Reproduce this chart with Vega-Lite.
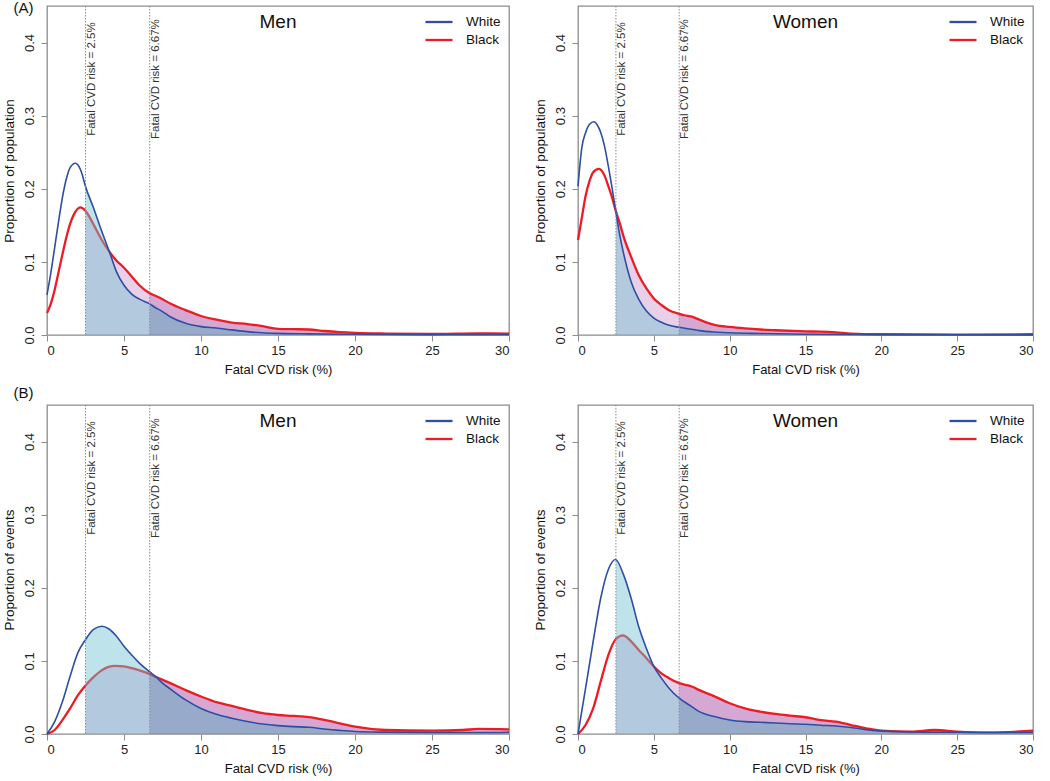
{
  "$schema": "https://vega.github.io/schema/vega-lite/v6.json",
  "padding": {"left": 1, "top": 0, "right": 0, "bottom": 0},
  "datasets": {
    "thr": [
      {"risk": 2.5, "label": "Fatal CVD risk = 2.5%"},
      {"risk": 6.67, "label": "Fatal CVD risk = 6.67%"}
    ],
    "curves": [
      {"panel":"AM","race":"White","risk":0,"prop":0.055},{"panel":"AM","race":"White","risk":0.25,"prop":0.085},{"panel":"AM","race":"White","risk":0.5,"prop":0.12},{"panel":"AM","race":"White","risk":0.75,"prop":0.155},{"panel":"AM","race":"White","risk":1,"prop":0.188},{"panel":"AM","race":"White","risk":1.25,"prop":0.213},{"panel":"AM","race":"White","risk":1.5,"prop":0.229},{"panel":"AM","race":"White","risk":1.84,"prop":0.235},{"panel":"AM","race":"White","risk":2,"prop":0.233},{"panel":"AM","race":"White","risk":2.25,"prop":0.222},{"panel":"AM","race":"White","risk":2.5,"prop":0.203},{"panel":"AM","race":"White","risk":3,"prop":0.175},{"panel":"AM","race":"White","risk":3.5,"prop":0.145},{"panel":"AM","race":"White","risk":4.05,"prop":0.114},{"panel":"AM","race":"White","risk":4.5,"prop":0.087},{"panel":"AM","race":"White","risk":5,"prop":0.068},{"panel":"AM","race":"White","risk":5.5,"prop":0.056},{"panel":"AM","race":"White","risk":6,"prop":0.049},{"panel":"AM","race":"White","risk":6.67,"prop":0.0425},{"panel":"AM","race":"White","risk":7,"prop":0.038},{"panel":"AM","race":"White","risk":7.5,"prop":0.032},{"panel":"AM","race":"White","risk":8,"prop":0.025},{"panel":"AM","race":"White","risk":9,"prop":0.016},{"panel":"AM","race":"White","risk":10,"prop":0.0114},{"panel":"AM","race":"White","risk":11,"prop":0.0095},{"panel":"AM","race":"White","risk":12,"prop":0.007},{"panel":"AM","race":"White","risk":13,"prop":0.0046},{"panel":"AM","race":"White","risk":14,"prop":0.003},{"panel":"AM","race":"White","risk":15,"prop":0.0022},{"panel":"AM","race":"White","risk":17,"prop":0.0015},{"panel":"AM","race":"White","risk":20,"prop":0.001},{"panel":"AM","race":"White","risk":25,"prop":0.0005},{"panel":"AM","race":"White","risk":30,"prop":0.0005},
      {"panel":"AM","race":"Black","risk":0,"prop":0.03},{"panel":"AM","race":"Black","risk":0.25,"prop":0.043},{"panel":"AM","race":"Black","risk":0.5,"prop":0.062},{"panel":"AM","race":"Black","risk":0.75,"prop":0.086},{"panel":"AM","race":"Black","risk":1,"prop":0.11},{"panel":"AM","race":"Black","risk":1.25,"prop":0.133},{"panel":"AM","race":"Black","risk":1.5,"prop":0.152},{"panel":"AM","race":"Black","risk":1.75,"prop":0.165},{"panel":"AM","race":"Black","risk":2.16,"prop":0.1746},{"panel":"AM","race":"Black","risk":2.5,"prop":0.17},{"panel":"AM","race":"Black","risk":3,"prop":0.152},{"panel":"AM","race":"Black","risk":3.5,"prop":0.132},{"panel":"AM","race":"Black","risk":4.05,"prop":0.114},{"panel":"AM","race":"Black","risk":4.5,"prop":0.102},{"panel":"AM","race":"Black","risk":5,"prop":0.092},{"panel":"AM","race":"Black","risk":5.5,"prop":0.08},{"panel":"AM","race":"Black","risk":6,"prop":0.068},{"panel":"AM","race":"Black","risk":6.67,"prop":0.057},{"panel":"AM","race":"Black","risk":7,"prop":0.054},{"panel":"AM","race":"Black","risk":7.5,"prop":0.049},{"panel":"AM","race":"Black","risk":8,"prop":0.043},{"panel":"AM","race":"Black","risk":9,"prop":0.034},{"panel":"AM","race":"Black","risk":10,"prop":0.026},{"panel":"AM","race":"Black","risk":11,"prop":0.021},{"panel":"AM","race":"Black","risk":12,"prop":0.017},{"panel":"AM","race":"Black","risk":13,"prop":0.015},{"panel":"AM","race":"Black","risk":14,"prop":0.012},{"panel":"AM","race":"Black","risk":15,"prop":0.0085},{"panel":"AM","race":"Black","risk":16,"prop":0.008},{"panel":"AM","race":"Black","risk":17,"prop":0.0075},{"panel":"AM","race":"Black","risk":18,"prop":0.0055},{"panel":"AM","race":"Black","risk":19,"prop":0.004},{"panel":"AM","race":"Black","risk":20,"prop":0.003},{"panel":"AM","race":"Black","risk":22,"prop":0.002},{"panel":"AM","race":"Black","risk":25,"prop":0.0014},{"panel":"AM","race":"Black","risk":28,"prop":0.0022},{"panel":"AM","race":"Black","risk":30,"prop":0.002},
      {"panel":"AW","race":"White","risk":0,"prop":0.2035},{"panel":"AW","race":"White","risk":0.25,"prop":0.256},{"panel":"AW","race":"White","risk":0.5,"prop":0.2767},{"panel":"AW","race":"White","risk":0.75,"prop":0.288},{"panel":"AW","race":"White","risk":1.06,"prop":0.2917},{"panel":"AW","race":"White","risk":1.25,"prop":0.288},{"panel":"AW","race":"White","risk":1.5,"prop":0.277},{"panel":"AW","race":"White","risk":1.75,"prop":0.258},{"panel":"AW","race":"White","risk":2,"prop":0.231},{"panel":"AW","race":"White","risk":2.25,"prop":0.201},{"panel":"AW","race":"White","risk":2.5,"prop":0.168},{"panel":"AW","race":"White","risk":2.75,"prop":0.137},{"panel":"AW","race":"White","risk":3,"prop":0.112},{"panel":"AW","race":"White","risk":3.5,"prop":0.073},{"panel":"AW","race":"White","risk":4,"prop":0.049},{"panel":"AW","race":"White","risk":4.5,"prop":0.033},{"panel":"AW","race":"White","risk":5,"prop":0.023},{"panel":"AW","race":"White","risk":5.5,"prop":0.0174},{"panel":"AW","race":"White","risk":6,"prop":0.0133},{"panel":"AW","race":"White","risk":6.67,"prop":0.0105},{"panel":"AW","race":"White","risk":7.5,"prop":0.0078},{"panel":"AW","race":"White","risk":8,"prop":0.006},{"panel":"AW","race":"White","risk":9,"prop":0.004},{"panel":"AW","race":"White","risk":10,"prop":0.003},{"panel":"AW","race":"White","risk":12,"prop":0.002},{"panel":"AW","race":"White","risk":15,"prop":0.001},{"panel":"AW","race":"White","risk":20,"prop":0.0005},{"panel":"AW","race":"White","risk":30,"prop":0.0002},
      {"panel":"AW","race":"Black","risk":0,"prop":0.13},{"panel":"AW","race":"Black","risk":0.25,"prop":0.16},{"panel":"AW","race":"Black","risk":0.5,"prop":0.19},{"panel":"AW","race":"Black","risk":0.75,"prop":0.21},{"panel":"AW","race":"Black","risk":1,"prop":0.2227},{"panel":"AW","race":"Black","risk":1.38,"prop":0.2273},{"panel":"AW","race":"Black","risk":1.75,"prop":0.218},{"panel":"AW","race":"Black","risk":2,"prop":0.2035},{"panel":"AW","race":"Black","risk":2.25,"prop":0.188},{"panel":"AW","race":"Black","risk":2.5,"prop":0.169},{"panel":"AW","race":"Black","risk":2.75,"prop":0.153},{"panel":"AW","race":"Black","risk":3,"prop":0.135},{"panel":"AW","race":"Black","risk":3.5,"prop":0.107},{"panel":"AW","race":"Black","risk":4,"prop":0.082},{"panel":"AW","race":"Black","risk":4.5,"prop":0.064},{"panel":"AW","race":"Black","risk":5,"prop":0.05},{"panel":"AW","race":"Black","risk":5.5,"prop":0.041},{"panel":"AW","race":"Black","risk":6,"prop":0.034},{"panel":"AW","race":"Black","risk":6.67,"prop":0.029},{"panel":"AW","race":"Black","risk":7,"prop":0.027},{"panel":"AW","race":"Black","risk":7.5,"prop":0.025},{"panel":"AW","race":"Black","risk":8,"prop":0.021},{"panel":"AW","race":"Black","risk":8.5,"prop":0.017},{"panel":"AW","race":"Black","risk":9,"prop":0.014},{"panel":"AW","race":"Black","risk":10,"prop":0.011},{"panel":"AW","race":"Black","risk":11,"prop":0.009},{"panel":"AW","race":"Black","risk":12,"prop":0.0075},{"panel":"AW","race":"Black","risk":13,"prop":0.0065},{"panel":"AW","race":"Black","risk":15,"prop":0.005},{"panel":"AW","race":"Black","risk":16,"prop":0.0045},{"panel":"AW","race":"Black","risk":17,"prop":0.0035},{"panel":"AW","race":"Black","risk":18,"prop":0.002},{"panel":"AW","race":"Black","risk":20,"prop":0.001},{"panel":"AW","race":"Black","risk":25,"prop":0.0005},{"panel":"AW","race":"Black","risk":30,"prop":0.001},
      {"panel":"BM","race":"White","risk":0,"prop":0},{"panel":"BM","race":"White","risk":0.5,"prop":0.017},{"panel":"BM","race":"White","risk":1,"prop":0.044},{"panel":"BM","race":"White","risk":1.5,"prop":0.079},{"panel":"BM","race":"White","risk":2,"prop":0.111},{"panel":"BM","race":"White","risk":2.5,"prop":0.129},{"panel":"BM","race":"White","risk":3,"prop":0.1427},{"panel":"BM","race":"White","risk":3.57,"prop":0.1473},{"panel":"BM","race":"White","risk":4,"prop":0.144},{"panel":"BM","race":"White","risk":4.5,"prop":0.134},{"panel":"BM","race":"White","risk":5,"prop":0.12},{"panel":"BM","race":"White","risk":5.5,"prop":0.108},{"panel":"BM","race":"White","risk":6,"prop":0.097},{"panel":"BM","race":"White","risk":6.67,"prop":0.085},{"panel":"BM","race":"White","risk":7.08,"prop":0.078},{"panel":"BM","race":"White","risk":7.5,"prop":0.0696},{"panel":"BM","race":"White","risk":8,"prop":0.0617},{"panel":"BM","race":"White","risk":9,"prop":0.0466},{"panel":"BM","race":"White","risk":10,"prop":0.035},{"panel":"BM","race":"White","risk":11,"prop":0.027},{"panel":"BM","race":"White","risk":12,"prop":0.0215},{"panel":"BM","race":"White","risk":13,"prop":0.017},{"panel":"BM","race":"White","risk":14,"prop":0.0137},{"panel":"BM","race":"White","risk":15,"prop":0.0115},{"panel":"BM","race":"White","risk":16,"prop":0.0101},{"panel":"BM","race":"White","risk":17,"prop":0.0092},{"panel":"BM","race":"White","risk":18,"prop":0.0069},{"panel":"BM","race":"White","risk":19,"prop":0.005},{"panel":"BM","race":"White","risk":20,"prop":0.0035},{"panel":"BM","race":"White","risk":22,"prop":0.0025},{"panel":"BM","race":"White","risk":25,"prop":0.002},{"panel":"BM","race":"White","risk":28,"prop":0.002},{"panel":"BM","race":"White","risk":30,"prop":0.0024},
      {"panel":"BM","race":"Black","risk":0,"prop":0},{"panel":"BM","race":"Black","risk":0.5,"prop":0.0055},{"panel":"BM","race":"Black","risk":1,"prop":0.019},{"panel":"BM","race":"Black","risk":1.5,"prop":0.035},{"panel":"BM","race":"Black","risk":2,"prop":0.0527},{"panel":"BM","race":"Black","risk":2.5,"prop":0.0664},{"panel":"BM","race":"Black","risk":3,"prop":0.0774},{"panel":"BM","race":"Black","risk":3.5,"prop":0.0864},{"panel":"BM","race":"Black","risk":4,"prop":0.0919},{"panel":"BM","race":"Black","risk":4.42,"prop":0.0933},{"panel":"BM","race":"Black","risk":5,"prop":0.0924},{"panel":"BM","race":"Black","risk":5.5,"prop":0.09},{"panel":"BM","race":"Black","risk":6,"prop":0.087},{"panel":"BM","race":"Black","risk":6.67,"prop":0.0819},{"panel":"BM","race":"Black","risk":7.08,"prop":0.078},{"panel":"BM","race":"Black","risk":8,"prop":0.0696},{"panel":"BM","race":"Black","risk":9,"prop":0.06},{"panel":"BM","race":"Black","risk":10,"prop":0.0513},{"panel":"BM","race":"Black","risk":11,"prop":0.0435},{"panel":"BM","race":"Black","risk":12,"prop":0.0384},{"panel":"BM","race":"Black","risk":13,"prop":0.033},{"panel":"BM","race":"Black","risk":14,"prop":0.0284},{"panel":"BM","race":"Black","risk":15,"prop":0.026},{"panel":"BM","race":"Black","risk":16,"prop":0.0247},{"panel":"BM","race":"Black","risk":17,"prop":0.023},{"panel":"BM","race":"Black","risk":18,"prop":0.0192},{"panel":"BM","race":"Black","risk":19,"prop":0.0147},{"panel":"BM","race":"Black","risk":20,"prop":0.01},{"panel":"BM","race":"Black","risk":22,"prop":0.0055},{"panel":"BM","race":"Black","risk":25,"prop":0.0047},{"panel":"BM","race":"Black","risk":27,"prop":0.0055},{"panel":"BM","race":"Black","risk":28,"prop":0.0069},{"panel":"BM","race":"Black","risk":30,"prop":0.0064},
      {"panel":"BW","race":"White","risk":0,"prop":0},{"panel":"BW","race":"White","risk":0.5,"prop":0.0626},{"panel":"BW","race":"White","risk":1,"prop":0.1267},{"panel":"BW","race":"White","risk":1.5,"prop":0.186},{"panel":"BW","race":"White","risk":2,"prop":0.225},{"panel":"BW","race":"White","risk":2.47,"prop":0.2387},{"panel":"BW","race":"White","risk":2.5,"prop":0.2385},{"panel":"BW","race":"White","risk":3,"prop":0.218},{"panel":"BW","race":"White","risk":3.5,"prop":0.186},{"panel":"BW","race":"White","risk":4,"prop":0.147},{"panel":"BW","race":"White","risk":4.5,"prop":0.1175},{"panel":"BW","race":"White","risk":5,"prop":0.0924},{"panel":"BW","race":"White","risk":5.5,"prop":0.0764},{"panel":"BW","race":"White","risk":6,"prop":0.0626},{"panel":"BW","race":"White","risk":6.67,"prop":0.049},{"panel":"BW","race":"White","risk":7.5,"prop":0.0375},{"panel":"BW","race":"White","risk":8,"prop":0.0306},{"panel":"BW","race":"White","risk":9,"prop":0.0238},{"panel":"BW","race":"White","risk":10,"prop":0.0192},{"panel":"BW","race":"White","risk":11,"prop":0.0169},{"panel":"BW","race":"White","risk":12,"prop":0.016},{"panel":"BW","race":"White","risk":13,"prop":0.015},{"panel":"BW","race":"White","risk":14,"prop":0.014},{"panel":"BW","race":"White","risk":15,"prop":0.0133},{"panel":"BW","race":"White","risk":16,"prop":0.012},{"panel":"BW","race":"White","risk":17,"prop":0.011},{"panel":"BW","race":"White","risk":18,"prop":0.009},{"panel":"BW","race":"White","risk":19,"prop":0.006},{"panel":"BW","race":"White","risk":20,"prop":0.004},{"panel":"BW","race":"White","risk":25,"prop":0.0023},{"panel":"BW","race":"White","risk":30,"prop":0.002},
      {"panel":"BW","race":"Black","risk":0,"prop":0},{"panel":"BW","race":"Black","risk":0.5,"prop":0.0123},{"panel":"BW","race":"Black","risk":1,"prop":0.035},{"panel":"BW","race":"Black","risk":1.5,"prop":0.072},{"panel":"BW","race":"Black","risk":2,"prop":0.108},{"panel":"BW","race":"Black","risk":2.5,"prop":0.13},{"panel":"BW","race":"Black","risk":2.97,"prop":0.1349},{"panel":"BW","race":"Black","risk":3.5,"prop":0.1267},{"panel":"BW","race":"Black","risk":4,"prop":0.115},{"panel":"BW","race":"Black","risk":4.5,"prop":0.104},{"panel":"BW","race":"Black","risk":5,"prop":0.0924},{"panel":"BW","race":"Black","risk":5.5,"prop":0.083},{"panel":"BW","race":"Black","risk":6,"prop":0.0764},{"panel":"BW","race":"Black","risk":6.67,"prop":0.0695},{"panel":"BW","race":"Black","risk":7.5,"prop":0.065},{"panel":"BW","race":"Black","risk":8,"prop":0.06},{"panel":"BW","race":"Black","risk":9,"prop":0.0515},{"panel":"BW","race":"Black","risk":10,"prop":0.042},{"panel":"BW","race":"Black","risk":11,"prop":0.035},{"panel":"BW","race":"Black","risk":12,"prop":0.0306},{"panel":"BW","race":"Black","risk":13,"prop":0.0274},{"panel":"BW","race":"Black","risk":14,"prop":0.025},{"panel":"BW","race":"Black","risk":15,"prop":0.0229},{"panel":"BW","race":"Black","risk":16,"prop":0.019},{"panel":"BW","race":"Black","risk":17,"prop":0.017},{"panel":"BW","race":"Black","risk":18,"prop":0.0123},{"panel":"BW","race":"Black","risk":19,"prop":0.0078},{"panel":"BW","race":"Black","risk":20,"prop":0.0046},{"panel":"BW","race":"Black","risk":22,"prop":0.0032},{"panel":"BW","race":"Black","risk":23.5,"prop":0.0055},{"panel":"BW","race":"Black","risk":25,"prop":0.0032},{"panel":"BW","race":"Black","risk":27,"prop":0.0018},{"panel":"BW","race":"Black","risk":30,"prop":0.0046}
    ]
  },
  "config": {
    "font": "Liberation Sans",
    "view": {"stroke": "#8c8c8c", "strokeWidth": 1.3},
    "axis": {"grid": false, "domain": false, "tickColor": "#8c8c8c", "tickSize": 6, "labelColor": "#222222", "titleColor": "#111111", "labelFontSize": 13, "titleFontSize": 13, "titleFontWeight": "normal"},
    "axisX": {"labelPadding": 3, "titlePadding": 6},
    "axisY": {"labelAngle": -90, "labelAlign": "center", "labelBaseline": "bottom", "labelPadding": 5, "titlePadding": 7, "titleFontSize": 13.5},
    "legend": {"symbolType": "M-2,0H2", "symbolSize": 182, "symbolStrokeWidth": 2.3, "labelFontSize": 13.5, "labelColor": "#111111", "labelOffset": 19, "rowPadding": 3, "padding": 0, "offset": 8},
    "text": {"font": "Liberation Sans"}
  },
  "spacing": 8,
  "resolve": {"scale": {"stroke": "independent"}, "legend": {"stroke": "independent"}},
  "vconcat": [
    {
      "spacing": 17,
      "resolve": {"scale": {"stroke": "independent"}, "legend": {"stroke": "independent"}},
      "hconcat": [
        {
          "width": 462, "height": 329,
          "layer": [
            {"data": {"name": "curves"}, "transform": [{"filter": "datum.panel === 'AM' && datum.race === 'Black' && datum.risk >= 2.5 && datum.risk <= 6.67"}], "mark": {"type": "area", "interpolate": "monotone", "fill": "#a743a3", "fillOpacity": 0.25}, "encoding": {"x": {"field": "risk", "type": "quantitative", "scale": {"domain": [0, 30], "nice": false, "zero": false}, "axis": {"values": [0, 5, 10, 15, 20, 25, 30]}, "title": "Fatal CVD risk (%)"}, "y": {"field": "prop", "type": "quantitative", "scale": {"domain": [0, 0.45], "nice": false}, "axis": {"values": [0, 0.1, 0.2, 0.3, 0.4], "format": ".1f"}, "title": "Proportion of population"}}},
            {"data": {"name": "curves"}, "transform": [{"filter": "datum.panel === 'AM' && datum.race === 'Black' && datum.risk >= 6.67"}], "mark": {"type": "area", "interpolate": "monotone", "fill": "#a951a5", "fillOpacity": 0.5}, "encoding": {"x": {"field": "risk", "type": "quantitative", "title": "Fatal CVD risk (%)"}, "y": {"field": "prop", "type": "quantitative", "title": "Proportion of population"}}},
            {"data": {"name": "curves"}, "transform": [{"filter": "datum.panel === 'AM' && datum.race === 'Black'"}], "mark": {"type": "line", "interpolate": "monotone", "strokeWidth": 2.3}, "encoding": {"x": {"field": "risk", "type": "quantitative", "title": "Fatal CVD risk (%)"}, "y": {"field": "prop", "type": "quantitative", "title": "Proportion of population"}, "stroke": {"field": "race", "type": "nominal", "scale": {"domain": ["White", "Black"], "range": ["#2d4ea3", "#ec1c24"]}, "legend": {"title": null, "orient": "top-right"}}}},
            {"data": {"name": "curves"}, "transform": [{"filter": "datum.panel === 'AM' && datum.race === 'White' && datum.risk >= 2.5 && datum.risk <= 6.67"}], "mark": {"type": "area", "interpolate": "monotone", "fill": "#71c1d0", "fillOpacity": 0.45}, "encoding": {"x": {"field": "risk", "type": "quantitative", "title": "Fatal CVD risk (%)"}, "y": {"field": "prop", "type": "quantitative", "title": "Proportion of population"}}},
            {"data": {"name": "curves"}, "transform": [{"filter": "datum.panel === 'AM' && datum.race === 'White' && datum.risk >= 6.67"}], "mark": {"type": "area", "interpolate": "monotone", "fill": "#5cacc2", "fillOpacity": 0.5}, "encoding": {"x": {"field": "risk", "type": "quantitative", "title": "Fatal CVD risk (%)"}, "y": {"field": "prop", "type": "quantitative", "title": "Proportion of population"}}},
            {"data": {"name": "curves"}, "transform": [{"filter": "datum.panel === 'AM' && datum.race === 'White'"}], "mark": {"type": "line", "interpolate": "monotone", "strokeWidth": 1.6}, "encoding": {"x": {"field": "risk", "type": "quantitative", "title": "Fatal CVD risk (%)"}, "y": {"field": "prop", "type": "quantitative", "title": "Proportion of population"}, "stroke": {"field": "race", "type": "nominal", "scale": {"domain": ["White", "Black"], "range": ["#2d4ea3", "#ec1c24"]}, "legend": {"title": null, "orient": "top-right"}}}},
            {"data": {"name": "thr"}, "mark": {"type": "rule", "color": "#8c8c8c", "strokeWidth": 1, "strokeDash": [1.5, 1.5]}, "encoding": {"x": {"field": "risk", "type": "quantitative", "title": "Fatal CVD risk (%)"}}},
            {"data": {"name": "thr"}, "mark": {"type": "text", "angle": 270, "align": "center", "baseline": "top", "fontSize": 11.5, "color": "#333333"}, "encoding": {"x": {"field": "risk", "type": "quantitative", "title": "Fatal CVD risk (%)"}, "y": {"datum": 0.35}, "text": {"field": "label"}}},
            {"data": {"values": [{"sex": "Men"}]}, "mark": {"type": "text", "fontSize": 19, "baseline": "middle", "color": "#111111"}, "encoding": {"x": {"datum": 15}, "y": {"datum": 0.4285}, "text": {"field": "sex"}}},
            {"data": {"values": [{"part": "(A)"}]}, "mark": {"type": "text", "fontSize": 15, "baseline": "middle", "color": "#111111"}, "encoding": {"x": {"datum": -1.53}, "y": {"datum": 0.447}, "text": {"field": "part"}}}
          ]
        },
        {
          "width": 455, "height": 329,
          "layer": [
            {"data": {"name": "curves"}, "transform": [{"filter": "datum.panel === 'AW' && datum.race === 'Black' && datum.risk >= 2.5 && datum.risk <= 6.67"}], "mark": {"type": "area", "interpolate": "monotone", "fill": "#a743a3", "fillOpacity": 0.25}, "encoding": {"x": {"field": "risk", "type": "quantitative", "scale": {"domain": [0, 30], "nice": false, "zero": false}, "axis": {"values": [0, 5, 10, 15, 20, 25, 30]}, "title": "Fatal CVD risk (%)"}, "y": {"field": "prop", "type": "quantitative", "scale": {"domain": [0, 0.45], "nice": false}, "axis": {"values": [0, 0.1, 0.2, 0.3, 0.4], "format": ".1f"}, "title": "Proportion of population"}}},
            {"data": {"name": "curves"}, "transform": [{"filter": "datum.panel === 'AW' && datum.race === 'Black' && datum.risk >= 6.67"}], "mark": {"type": "area", "interpolate": "monotone", "fill": "#a951a5", "fillOpacity": 0.5}, "encoding": {"x": {"field": "risk", "type": "quantitative", "title": "Fatal CVD risk (%)"}, "y": {"field": "prop", "type": "quantitative", "title": "Proportion of population"}}},
            {"data": {"name": "curves"}, "transform": [{"filter": "datum.panel === 'AW' && datum.race === 'Black'"}], "mark": {"type": "line", "interpolate": "monotone", "strokeWidth": 2.3}, "encoding": {"x": {"field": "risk", "type": "quantitative", "title": "Fatal CVD risk (%)"}, "y": {"field": "prop", "type": "quantitative", "title": "Proportion of population"}, "stroke": {"field": "race", "type": "nominal", "scale": {"domain": ["White", "Black"], "range": ["#2d4ea3", "#ec1c24"]}, "legend": {"title": null, "orient": "top-right"}}}},
            {"data": {"name": "curves"}, "transform": [{"filter": "datum.panel === 'AW' && datum.race === 'White' && datum.risk >= 2.5 && datum.risk <= 6.67"}], "mark": {"type": "area", "interpolate": "monotone", "fill": "#71c1d0", "fillOpacity": 0.45}, "encoding": {"x": {"field": "risk", "type": "quantitative", "title": "Fatal CVD risk (%)"}, "y": {"field": "prop", "type": "quantitative", "title": "Proportion of population"}}},
            {"data": {"name": "curves"}, "transform": [{"filter": "datum.panel === 'AW' && datum.race === 'White' && datum.risk >= 6.67"}], "mark": {"type": "area", "interpolate": "monotone", "fill": "#5cacc2", "fillOpacity": 0.5}, "encoding": {"x": {"field": "risk", "type": "quantitative", "title": "Fatal CVD risk (%)"}, "y": {"field": "prop", "type": "quantitative", "title": "Proportion of population"}}},
            {"data": {"name": "curves"}, "transform": [{"filter": "datum.panel === 'AW' && datum.race === 'White'"}], "mark": {"type": "line", "interpolate": "monotone", "strokeWidth": 1.6}, "encoding": {"x": {"field": "risk", "type": "quantitative", "title": "Fatal CVD risk (%)"}, "y": {"field": "prop", "type": "quantitative", "title": "Proportion of population"}, "stroke": {"field": "race", "type": "nominal", "scale": {"domain": ["White", "Black"], "range": ["#2d4ea3", "#ec1c24"]}, "legend": {"title": null, "orient": "top-right"}}}},
            {"data": {"name": "thr"}, "mark": {"type": "rule", "color": "#8c8c8c", "strokeWidth": 1, "strokeDash": [1.5, 1.5]}, "encoding": {"x": {"field": "risk", "type": "quantitative", "title": "Fatal CVD risk (%)"}}},
            {"data": {"name": "thr"}, "mark": {"type": "text", "angle": 270, "align": "center", "baseline": "top", "fontSize": 11.5, "color": "#333333"}, "encoding": {"x": {"field": "risk", "type": "quantitative", "title": "Fatal CVD risk (%)"}, "y": {"datum": 0.35}, "text": {"field": "label"}}},
            {"data": {"values": [{"sex": "Women"}]}, "mark": {"type": "text", "fontSize": 19, "baseline": "middle", "color": "#111111"}, "encoding": {"x": {"datum": 15}, "y": {"datum": 0.4285}, "text": {"field": "sex"}}}
          ]
        }
      ]
    },
    {
      "spacing": 17,
      "resolve": {"scale": {"stroke": "independent"}, "legend": {"stroke": "independent"}},
      "hconcat": [
        {
          "width": 462, "height": 329,
          "layer": [
            {"data": {"name": "curves"}, "transform": [{"filter": "datum.panel === 'BM' && datum.race === 'Black' && datum.risk >= 2.5 && datum.risk <= 6.67"}], "mark": {"type": "area", "interpolate": "monotone", "fill": "#a743a3", "fillOpacity": 0.25}, "encoding": {"x": {"field": "risk", "type": "quantitative", "scale": {"domain": [0, 30], "nice": false, "zero": false}, "axis": {"values": [0, 5, 10, 15, 20, 25, 30]}, "title": "Fatal CVD risk (%)"}, "y": {"field": "prop", "type": "quantitative", "scale": {"domain": [0, 0.45], "nice": false}, "axis": {"values": [0, 0.1, 0.2, 0.3, 0.4], "format": ".1f"}, "title": "Proportion of events"}}},
            {"data": {"name": "curves"}, "transform": [{"filter": "datum.panel === 'BM' && datum.race === 'Black' && datum.risk >= 6.67"}], "mark": {"type": "area", "interpolate": "monotone", "fill": "#a951a5", "fillOpacity": 0.5}, "encoding": {"x": {"field": "risk", "type": "quantitative", "title": "Fatal CVD risk (%)"}, "y": {"field": "prop", "type": "quantitative", "title": "Proportion of events"}}},
            {"data": {"name": "curves"}, "transform": [{"filter": "datum.panel === 'BM' && datum.race === 'Black'"}], "mark": {"type": "line", "interpolate": "monotone", "strokeWidth": 2.3}, "encoding": {"x": {"field": "risk", "type": "quantitative", "title": "Fatal CVD risk (%)"}, "y": {"field": "prop", "type": "quantitative", "title": "Proportion of events"}, "stroke": {"field": "race", "type": "nominal", "scale": {"domain": ["White", "Black"], "range": ["#2d4ea3", "#ec1c24"]}, "legend": {"title": null, "orient": "top-right"}}}},
            {"data": {"name": "curves"}, "transform": [{"filter": "datum.panel === 'BM' && datum.race === 'White' && datum.risk >= 2.5 && datum.risk <= 6.67"}], "mark": {"type": "area", "interpolate": "monotone", "fill": "#71c1d0", "fillOpacity": 0.45}, "encoding": {"x": {"field": "risk", "type": "quantitative", "title": "Fatal CVD risk (%)"}, "y": {"field": "prop", "type": "quantitative", "title": "Proportion of events"}}},
            {"data": {"name": "curves"}, "transform": [{"filter": "datum.panel === 'BM' && datum.race === 'White' && datum.risk >= 6.67"}], "mark": {"type": "area", "interpolate": "monotone", "fill": "#5cacc2", "fillOpacity": 0.5}, "encoding": {"x": {"field": "risk", "type": "quantitative", "title": "Fatal CVD risk (%)"}, "y": {"field": "prop", "type": "quantitative", "title": "Proportion of events"}}},
            {"data": {"name": "curves"}, "transform": [{"filter": "datum.panel === 'BM' && datum.race === 'White'"}], "mark": {"type": "line", "interpolate": "monotone", "strokeWidth": 1.6}, "encoding": {"x": {"field": "risk", "type": "quantitative", "title": "Fatal CVD risk (%)"}, "y": {"field": "prop", "type": "quantitative", "title": "Proportion of events"}, "stroke": {"field": "race", "type": "nominal", "scale": {"domain": ["White", "Black"], "range": ["#2d4ea3", "#ec1c24"]}, "legend": {"title": null, "orient": "top-right"}}}},
            {"data": {"name": "thr"}, "mark": {"type": "rule", "color": "#8c8c8c", "strokeWidth": 1, "strokeDash": [1.5, 1.5]}, "encoding": {"x": {"field": "risk", "type": "quantitative", "title": "Fatal CVD risk (%)"}}},
            {"data": {"name": "thr"}, "mark": {"type": "text", "angle": 270, "align": "center", "baseline": "top", "fontSize": 11.5, "color": "#333333"}, "encoding": {"x": {"field": "risk", "type": "quantitative", "title": "Fatal CVD risk (%)"}, "y": {"datum": 0.35}, "text": {"field": "label"}}},
            {"data": {"values": [{"sex": "Men"}]}, "mark": {"type": "text", "fontSize": 19, "baseline": "middle", "color": "#111111"}, "encoding": {"x": {"datum": 15}, "y": {"datum": 0.4285}, "text": {"field": "sex"}}},
            {"data": {"values": [{"part": "(B)"}]}, "mark": {"type": "text", "fontSize": 15, "baseline": "middle", "color": "#111111"}, "encoding": {"x": {"datum": -1.53}, "y": {"datum": 0.4665}, "text": {"field": "part"}}}
          ]
        },
        {
          "width": 455, "height": 329,
          "layer": [
            {"data": {"name": "curves"}, "transform": [{"filter": "datum.panel === 'BW' && datum.race === 'Black' && datum.risk >= 2.5 && datum.risk <= 6.67"}], "mark": {"type": "area", "interpolate": "monotone", "fill": "#a743a3", "fillOpacity": 0.25}, "encoding": {"x": {"field": "risk", "type": "quantitative", "scale": {"domain": [0, 30], "nice": false, "zero": false}, "axis": {"values": [0, 5, 10, 15, 20, 25, 30]}, "title": "Fatal CVD risk (%)"}, "y": {"field": "prop", "type": "quantitative", "scale": {"domain": [0, 0.45], "nice": false}, "axis": {"values": [0, 0.1, 0.2, 0.3, 0.4], "format": ".1f"}, "title": "Proportion of events"}}},
            {"data": {"name": "curves"}, "transform": [{"filter": "datum.panel === 'BW' && datum.race === 'Black' && datum.risk >= 6.67"}], "mark": {"type": "area", "interpolate": "monotone", "fill": "#a951a5", "fillOpacity": 0.5}, "encoding": {"x": {"field": "risk", "type": "quantitative", "title": "Fatal CVD risk (%)"}, "y": {"field": "prop", "type": "quantitative", "title": "Proportion of events"}}},
            {"data": {"name": "curves"}, "transform": [{"filter": "datum.panel === 'BW' && datum.race === 'Black'"}], "mark": {"type": "line", "interpolate": "monotone", "strokeWidth": 2.3}, "encoding": {"x": {"field": "risk", "type": "quantitative", "title": "Fatal CVD risk (%)"}, "y": {"field": "prop", "type": "quantitative", "title": "Proportion of events"}, "stroke": {"field": "race", "type": "nominal", "scale": {"domain": ["White", "Black"], "range": ["#2d4ea3", "#ec1c24"]}, "legend": {"title": null, "orient": "top-right"}}}},
            {"data": {"name": "curves"}, "transform": [{"filter": "datum.panel === 'BW' && datum.race === 'White' && datum.risk >= 2.5 && datum.risk <= 6.67"}], "mark": {"type": "area", "interpolate": "monotone", "fill": "#71c1d0", "fillOpacity": 0.45}, "encoding": {"x": {"field": "risk", "type": "quantitative", "title": "Fatal CVD risk (%)"}, "y": {"field": "prop", "type": "quantitative", "title": "Proportion of events"}}},
            {"data": {"name": "curves"}, "transform": [{"filter": "datum.panel === 'BW' && datum.race === 'White' && datum.risk >= 6.67"}], "mark": {"type": "area", "interpolate": "monotone", "fill": "#5cacc2", "fillOpacity": 0.5}, "encoding": {"x": {"field": "risk", "type": "quantitative", "title": "Fatal CVD risk (%)"}, "y": {"field": "prop", "type": "quantitative", "title": "Proportion of events"}}},
            {"data": {"name": "curves"}, "transform": [{"filter": "datum.panel === 'BW' && datum.race === 'White'"}], "mark": {"type": "line", "interpolate": "monotone", "strokeWidth": 1.6}, "encoding": {"x": {"field": "risk", "type": "quantitative", "title": "Fatal CVD risk (%)"}, "y": {"field": "prop", "type": "quantitative", "title": "Proportion of events"}, "stroke": {"field": "race", "type": "nominal", "scale": {"domain": ["White", "Black"], "range": ["#2d4ea3", "#ec1c24"]}, "legend": {"title": null, "orient": "top-right"}}}},
            {"data": {"name": "thr"}, "mark": {"type": "rule", "color": "#8c8c8c", "strokeWidth": 1, "strokeDash": [1.5, 1.5]}, "encoding": {"x": {"field": "risk", "type": "quantitative", "title": "Fatal CVD risk (%)"}}},
            {"data": {"name": "thr"}, "mark": {"type": "text", "angle": 270, "align": "center", "baseline": "top", "fontSize": 11.5, "color": "#333333"}, "encoding": {"x": {"field": "risk", "type": "quantitative", "title": "Fatal CVD risk (%)"}, "y": {"datum": 0.35}, "text": {"field": "label"}}},
            {"data": {"values": [{"sex": "Women"}]}, "mark": {"type": "text", "fontSize": 19, "baseline": "middle", "color": "#111111"}, "encoding": {"x": {"datum": 15}, "y": {"datum": 0.4285}, "text": {"field": "sex"}}}
          ]
        }
      ]
    }
  ]
}
